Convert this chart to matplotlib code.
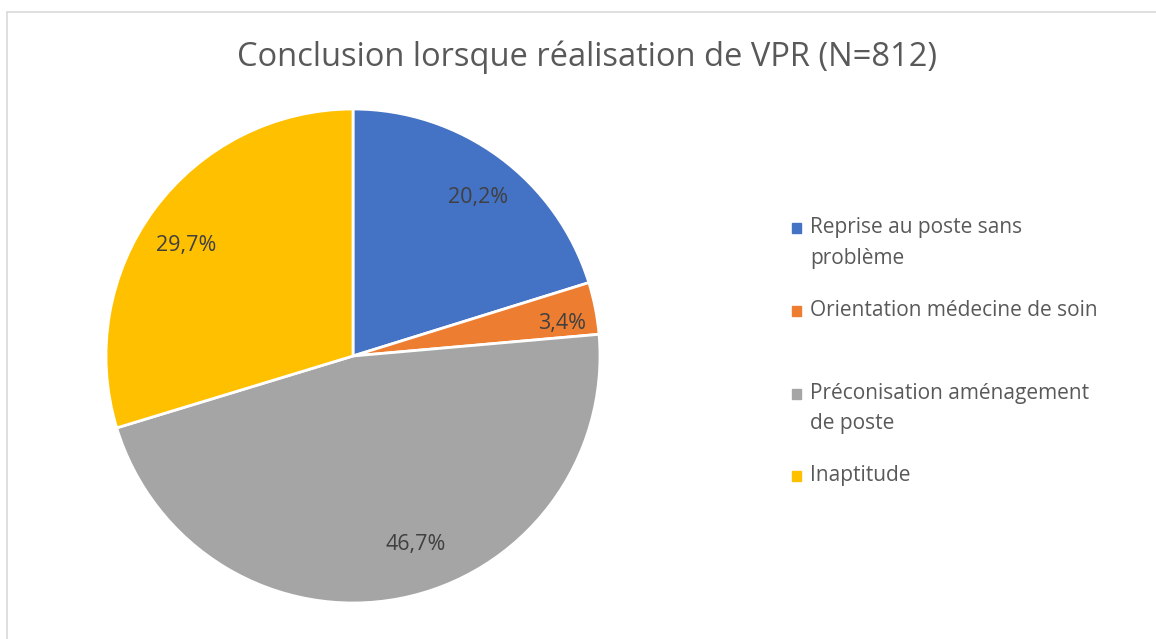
import matplotlib.pyplot as plt
from matplotlib.patches import Rectangle

categories = ["Reprise au poste sans\nproblème", "Orientation médecine de soin",
              "Préconisation aménagement\nde poste", "Inaptitude"]
values = [20.2, 3.4, 46.7, 29.7]
colors = ["#4472C4", "#ED7D31", "#A5A5A5", "#FFC000"]

plt.rcParams["font.family"] = ["Open Sans", "DejaVu Sans"]

W, H = 1156, 639
fig = plt.figure(figsize=(W / 100, H / 100), dpi=100)

# chart border (cut off on right and bottom like the screenshot)
fig.patches.append(Rectangle((7 / W, -0.1), 1.2, (H - 12.5) / H + 0.1, transform=fig.transFigure,
                             fill=False, edgecolor="#D9D9D9", linewidth=1.2))

cx, cy, r = 353, 356, 247
ax = fig.add_axes([(cx - r) / W, (H - cy - r) / H, 2 * r / W, 2 * r / H])
wedges, _, autotexts = ax.pie(
    values, colors=colors, startangle=90, counterclock=False,
    autopct=lambda p: f"{p:.1f}%".replace(".", ","), pctdistance=0.82,
    wedgeprops={"edgecolor": "white", "linewidth": 2},
    textprops={"color": "#404040", "fontsize": 15.5})
ax.set_xlim(-1, 1)
ax.set_ylim(-1, 1)
ax.set_aspect("equal")

# small nudges (pixels) to mimic Excel's best-fit label placement
nudges = [(5, -5), (10, -7), (24, 10), (-4, -10)]
for t, (dx, dy) in zip(autotexts, nudges):
    x, y = t.get_position()
    t.set_position((x + dx / r, y + dy / r))

fig.text(587 / W, 1 - 57 / H, "Conclusion lorsque réalisation de VPR (N=812)",
         ha="center", va="center", fontsize=23.5, color="#595959")

# legend: first-line centre of each entry, lines 30 px apart
first_lines = [228, 311, 394, 476]
for lab, col, y0 in zip(categories, colors, first_lines):
    fig.patches.append(Rectangle((792 / W, 1 - (y0 + 4.5) / H), 9.5 / W, 9.5 / H,
                                 transform=fig.transFigure, color=col))
    for i, line in enumerate(lab.split("\n")):
        fig.text(810 / W, 1 - (y0 + 30 * i) / H, line, ha="left", va="center",
                 fontsize=15, color="#595959")

fig.savefig("out.png", dpi=100)
